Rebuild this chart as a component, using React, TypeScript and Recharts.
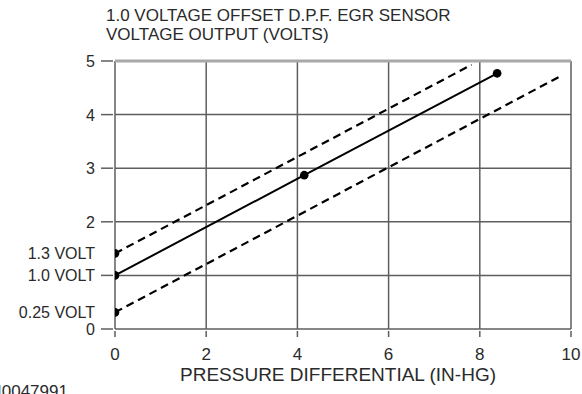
import React from 'react';
import { LineChart, Line, XAxis, YAxis, CartesianGrid, ReferenceLine } from 'recharts';

// points (x = in-Hg, y = volts)
const nominalLine = [
  { x: 0, y: 1.0, dot: true },
  { x: 4.15, y: 2.87, dot: true },
  { x: 8.38, y: 4.77, dot: true },
];
const upperLimit = [
  { x: 0, y: 1.41, dot: true },
  { x: 7.82, y: 4.93, dot: false },
];
const lowerLimit = [
  { x: 0, y: 0.31, dot: true },
  { x: 9.82, y: 4.74, dot: false },
];

const xTicks = [0, 2, 4, 6, 8, 10];
const yTicks = [0, 0.31, 1, 1.41, 2, 3, 4, 5];
const yTickLabels: Record<string, string> = {
  '0': '0',
  '0.31': '0.25 VOLT',
  '1': '1.0 VOLT',
  '1.41': '1.3 VOLT',
  '2': '2',
  '3': '3',
  '4': '4',
  '5': '5',
};
const gridY = [0, 1, 2, 3, 4, 5];

const FONT = 'Liberation Sans, Arial, sans-serif';
const TEXT = '#2a2a2a';
const GRID = '#5e5e5e';

const YTick = (props: any) => {
  const { x, y, payload } = props;
  const v = payload.value;
  const isGrid = Number.isInteger(v);
  return (
    <g>
      {isGrid && <line x1={x - 12} x2={x} y1={y} y2={y} stroke={GRID} strokeWidth={1.5} />}
      <text x={x - 18} y={y} dy={6} textAnchor="end" fontSize={16} fontFamily={FONT} fill={TEXT}>
        {yTickLabels[String(v)]}
      </text>
    </g>
  );
};

const XTick = (props: any) => {
  const { x, y, payload } = props;
  return (
    <g>
      <line x1={x} x2={x} y1={y} y2={y + 6} stroke={GRID} strokeWidth={1.5} />
      <text x={x} y={y + 23} dy={6} textAnchor="middle" fontSize={17} fontFamily={FONT} fill={TEXT}>
        {payload.value}
      </text>
    </g>
  );
};

const MarkerDot = (props: any) => {
  const { cx, cy, payload, index } = props;
  if (!payload || !payload.dot) return <g key={index} />;
  return <circle key={index} cx={cx} cy={cy} r={4.3} fill="#000" />;
};

export default function App() {
  return (
    <div style={{ position: 'absolute', left: 0, top: 0, width: 582, height: 394, background: '#fff', overflow: 'hidden' }}>
      <div style={{ position: 'absolute', left: 106, top: 6, fontFamily: FONT, fontSize: 17, lineHeight: '19px', color: TEXT, whiteSpace: 'nowrap' }}>
        1.0 VOLTAGE OFFSET D.P.F. EGR SENSOR
        <br />
        VOLTAGE OUTPUT (VOLTS)
      </div>
      <LineChart width={582} height={394} margin={{ top: 61, right: 11, bottom: 25, left: 0 }}>
        <CartesianGrid stroke={GRID} strokeWidth={1.5} horizontalValues={gridY} verticalValues={xTicks} />
        <ReferenceLine y={5} stroke="#a8a8a8" strokeWidth={3} />
        <XAxis
          type="number"
          dataKey="x"
          domain={[0, 10]}
          ticks={xTicks}
          allowDataOverflow
          axisLine={false}
          tickLine={false}
          tickSize={0}
          height={40}
          tick={<XTick />}
        />
        <YAxis
          type="number"
          dataKey="y"
          domain={[0, 5]}
          ticks={yTicks}
          interval={0}
          axisLine={false}
          tickLine={false}
          tickSize={0}
          width={115}
          tick={<YTick />}
        />
        <Line data={upperLimit} dataKey="y" stroke="#000" strokeWidth={2.2} strokeDasharray="8 5" dot={<MarkerDot />} activeDot={false} isAnimationActive={false} />
        <Line data={lowerLimit} dataKey="y" stroke="#000" strokeWidth={2.2} strokeDasharray="8 5" dot={<MarkerDot />} activeDot={false} isAnimationActive={false} />
        <Line data={nominalLine} dataKey="y" stroke="#000" strokeWidth={2} dot={<MarkerDot />} activeDot={false} isAnimationActive={false} />
      </LineChart>
      <div style={{ position: 'absolute', left: 180, top: 364, fontFamily: FONT, fontSize: 19, color: TEXT, whiteSpace: 'nowrap' }}>
        PRESSURE DIFFERENTIAL (IN-HG)
      </div>
      <div style={{ position: 'absolute', left: -3, top: 382, fontFamily: FONT, fontSize: 17, color: TEXT }}>
        I0047991
      </div>
    </div>
  );
}
